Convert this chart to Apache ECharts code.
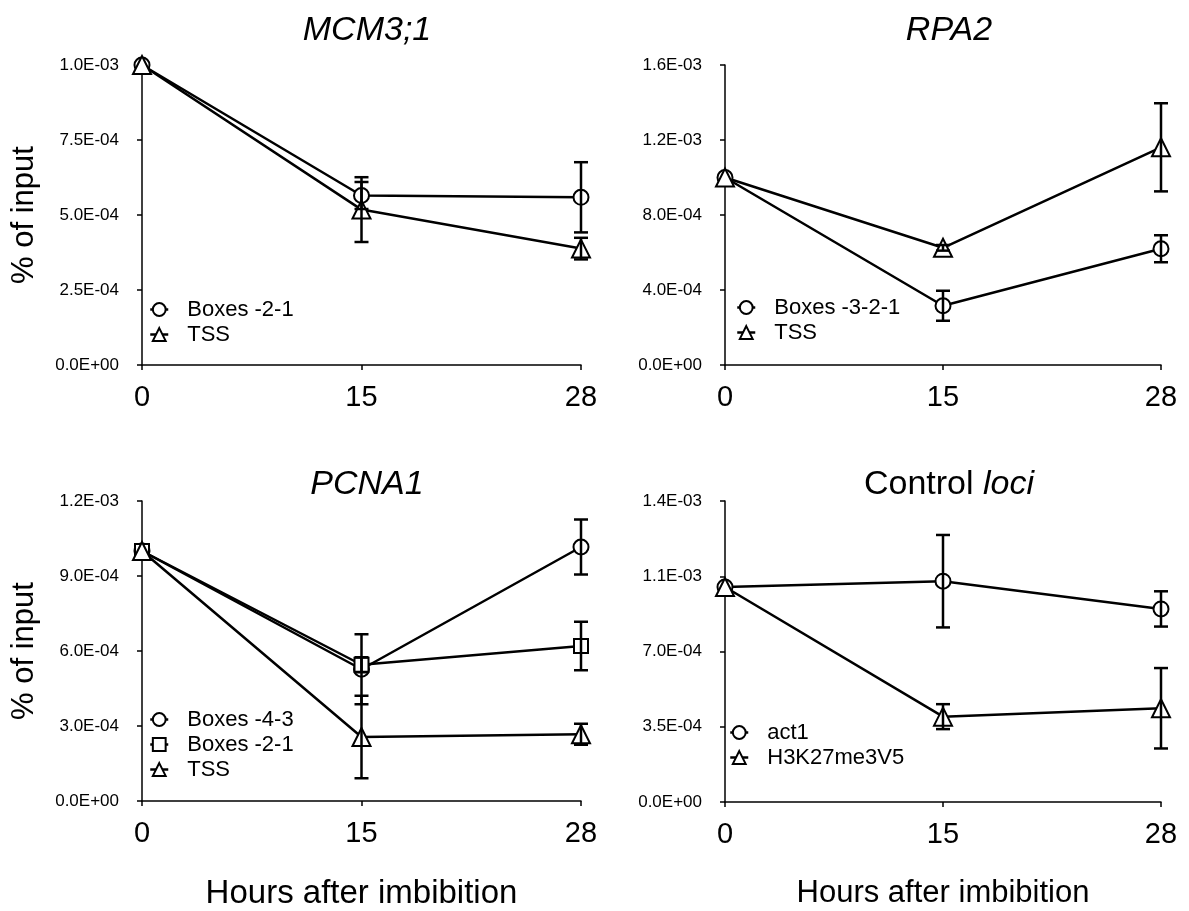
<!DOCTYPE html>
<html lang="en">
<head>
    <meta charset="UTF-8">
    <title>ChIP time course</title>
    <script src="https://cdn.jsdelivr.net/npm/echarts@6/dist/echarts.min.js"></script>
    <style>
        body { margin: 0; background: #fff; }
        #chart { width: 1189px; height: 911px; }
    </style>
</head>
<body>
    <div id="chart"></div>
    <script>
        // Hours after imbibition (category axis)
        const hours = ['0', '15', '28'];

        // MCM3;1
        const mcmBoxes = [1.0e-3, 5.65e-4, 5.59e-4];
        const mcmBoxesErr = [0, 0.45e-4, 1.17e-4];
        const mcmTss = [1.0e-3, 5.18e-4, 3.88e-4];
        const mcmTssErr = [0, 1.08e-4, 0.36e-4];
        const mcmTicks = ['0.0E+00', '2.5E-04', '5.0E-04', '7.5E-04', '1.0E-03'];

        // RPA2
        const rpaBoxes = [1.0e-3, 3.16e-4, 6.2e-4];
        const rpaBoxesErr = [0, 0.8e-4, 0.72e-4];
        const rpaTss = [1.0e-3, 6.25e-4, 1.161e-3];
        const rpaTssErr = [0, 0.15e-4, 2.35e-4];
        const rpaTicks = ['0.0E+00', '4.0E-04', '8.0E-04', '1.2E-03', '1.6E-03'];

        // PCNA1
        const pcnaBoxes43 = [1.0e-3, 5.27e-4, 1.016e-3];
        const pcnaBoxes43Err = [0, 1.4e-4, 1.1e-4];
        const pcnaBoxes21 = [1.0e-3, 5.45e-4, 6.2e-4];
        const pcnaBoxes21Err = [0, 0.3e-4, 0.97e-4];
        const pcnaTss = [1.0e-3, 2.56e-4, 2.67e-4];
        const pcnaTssErr = [0, 1.65e-4, 0.42e-4];
        const pcnaTicks = ['0.0E+00', '3.0E-04', '6.0E-04', '9.0E-04', '1.2E-03'];

        // Control loci
        const ctlAct1 = [1.0e-3, 1.027e-3, 0.898e-3];
        const ctlAct1Err = [0, 2.15e-4, 0.82e-4];
        const ctlH3 = [1.0e-3, 0.397e-3, 0.436e-3];
        const ctlH3Err = [0, 0.58e-4, 1.87e-4];
        const ctlTicks = ['0.0E+00', '3.5E-04', '7.0E-04', '1.1E-03', '1.4E-03'];

        const FONT = '"Liberation Sans", Arial, Helvetica, sans-serif';
        const chart = echarts.init(document.getElementById('chart'));

        const grids = [
            { left: 142, top: 65, width: 439, height: 300 },
            { left: 725, top: 65, width: 436, height: 300 },
            { left: 142, top: 501, width: 439, height: 301 },
            { left: 725, top: 501, width: 436, height: 301 }
        ];
        const yMax = [1.0e-3, 1.6e-3, 1.2e-3, 1.4e-3];
        const yStep = [2.5e-4, 4.0e-4, 3.0e-4, 3.5e-4];
        const yTicks = [mcmTicks, rpaTicks, pcnaTicks, ctlTicks];

        const axisLine = { show: true, lineStyle: { color: '#000', width: 1.5 } };
        const axisTick = { show: true, inside: false, length: 5, lineStyle: { color: '#000', width: 1.5 } };

        const xAxes = grids.map((g, i) => ({
            type: 'category',
            gridIndex: i,
            data: hours,
            boundaryGap: false,
            axisLine, axisTick,
            axisLabel: { fontSize: 29, fontFamily: FONT, color: '#000', margin: 18 },
            name: i >= 2 ? 'Hours after imbibition' : '',
            nameLocation: 'middle',
            nameGap: 76,
            nameTextStyle: { fontSize: i === 2 ? 33 : 31, fontFamily: FONT, color: '#000' }
        }));

        const yAxes = grids.map((g, i) => ({
            type: 'value',
            gridIndex: i,
            min: 0,
            max: yMax[i],
            interval: yStep[i],
            splitLine: { show: false },
            axisLine, axisTick,
            axisLabel: {
                fontSize: 17, fontFamily: FONT, color: '#000', margin: 23,
                formatter: v => yTicks[i][Math.round(v / yStep[i])]
            },
            name: i % 2 === 0 ? '% of input' : '',
            nameLocation: 'middle',
            nameRotate: 90,
            nameGap: 102,
            nameTextStyle: { fontSize: 31, fontFamily: FONT, color: '#000' }
        }));

        function lineSeries(panel, name, symbol, size, values) {
            return {
                type: 'line',
                name: panel + '|' + name,
                xAxisIndex: panel, yAxisIndex: panel,
                data: values,
                symbol: symbol,
                symbolSize: size,
                showAllSymbol: true,
                lineStyle: { color: '#000', width: 2.5 },
                itemStyle: { color: '#000', borderColor: '#000', borderWidth: 2.5 },
                z: 3,
                animation: false
            };
        }

        function errorBars(panel, values, errs) {
            const data = values.map((v, i) => [i, v - errs[i], v + errs[i]])
                .filter(d => d[2] > d[1]);
            return {
                type: 'custom',
                xAxisIndex: panel, yAxisIndex: panel,
                data: data,
                encode: { x: 0, y: [1, 2] },
                z: 4,
                silent: true,
                animation: false,
                renderItem: (params, api) => {
                    const top = api.coord([api.value(0), api.value(2)]);
                    const bot = api.coord([api.value(0), api.value(1)]);
                    const w = 7;
                    const st = { stroke: '#000', lineWidth: 2.5 };
                    return {
                        type: 'group',
                        children: [
                            { type: 'line', shape: { x1: top[0], y1: top[1], x2: bot[0], y2: bot[1] }, style: st },
                            { type: 'line', shape: { x1: top[0] - w, y1: top[1], x2: top[0] + w, y2: top[1] }, style: st },
                            { type: 'line', shape: { x1: bot[0] - w, y1: bot[1], x2: bot[0] + w, y2: bot[1] }, style: st }
                        ]
                    };
                }
            };
        }

        const series = [
            lineSeries(0, 'Boxes -2-1', 'emptyCircle', 15, mcmBoxes),
            lineSeries(0, 'TSS', 'emptyTriangle', 18, mcmTss),
            errorBars(0, mcmBoxes, mcmBoxesErr),
            errorBars(0, mcmTss, mcmTssErr),

            lineSeries(1, 'Boxes -3-2-1', 'emptyCircle', 15, rpaBoxes),
            lineSeries(1, 'TSS', 'emptyTriangle', 18, rpaTss),
            errorBars(1, rpaBoxes, rpaBoxesErr),
            errorBars(1, rpaTss, rpaTssErr),

            lineSeries(2, 'Boxes -4-3', 'emptyCircle', 15, pcnaBoxes43),
            lineSeries(2, 'Boxes -2-1', 'emptyRect', 14, pcnaBoxes21),
            lineSeries(2, 'TSS', 'emptyTriangle', 18, pcnaTss),
            errorBars(2, pcnaBoxes43, pcnaBoxes43Err),
            errorBars(2, pcnaBoxes21, pcnaBoxes21Err),
            errorBars(2, pcnaTss, pcnaTssErr),

            lineSeries(3, 'act1', 'emptyCircle', 15, ctlAct1),
            lineSeries(3, 'H3K27me3V5', 'emptyTriangle', 18, ctlH3),
            errorBars(3, ctlAct1, ctlAct1Err),
            errorBars(3, ctlH3, ctlH3Err)
        ];

        function legend(panel, names, left, top) {
            return {
                orient: 'vertical',
                left: left, top: top,
                padding: 0,
                itemGap: 2,
                itemWidth: 18,
                itemHeight: 16,
                selectedMode: false,
                data: names.map(n => panel + '|' + n),
                formatter: n => n.split('|')[1],
                itemStyle: { borderWidth: 2.5 },
                lineStyle: { width: 2.5 },
                textStyle: { fontSize: 22, lineHeight: 23, fontFamily: FONT, color: '#000', padding: [0, 0, 0, 14] }
            };
        }

        const titleStyle = { fontSize: 34, fontStyle: 'italic', fontWeight: 'normal', fontFamily: FONT, color: '#000' };

        chart.setOption({
            animation: false,
            title: [
                { text: 'MCM3;1', left: 362, top: 9, textAlign: 'center', textStyle: titleStyle },
                { text: 'RPA2', left: 944, top: 9, textAlign: 'center', textStyle: titleStyle },
                { text: 'PCNA1', left: 362, top: 463, textAlign: 'center', textStyle: titleStyle },
                {
                    text: 'Control {i|loci}', left: 944, top: 463, textAlign: 'center',
                    textStyle: {
                        fontSize: 34, fontWeight: 'normal', fontFamily: FONT, color: '#000',
                        rich: { i: { fontSize: 34, fontStyle: 'italic', fontFamily: FONT, color: '#000' } }
                    }
                }
            ],
            legend: [
                legend(0, ['Boxes -2-1', 'TSS'], 149, 298),
                legend(1, ['Boxes -3-2-1', 'TSS'], 736, 296),
                legend(2, ['Boxes -4-3', 'Boxes -2-1', 'TSS'], 149, 708),
                legend(3, ['act1', 'H3K27me3V5'], 729, 721)
            ],
            grid: grids,
            xAxis: xAxes,
            yAxis: yAxes,
            series: series
        });
    </script>
</body>
</html>
